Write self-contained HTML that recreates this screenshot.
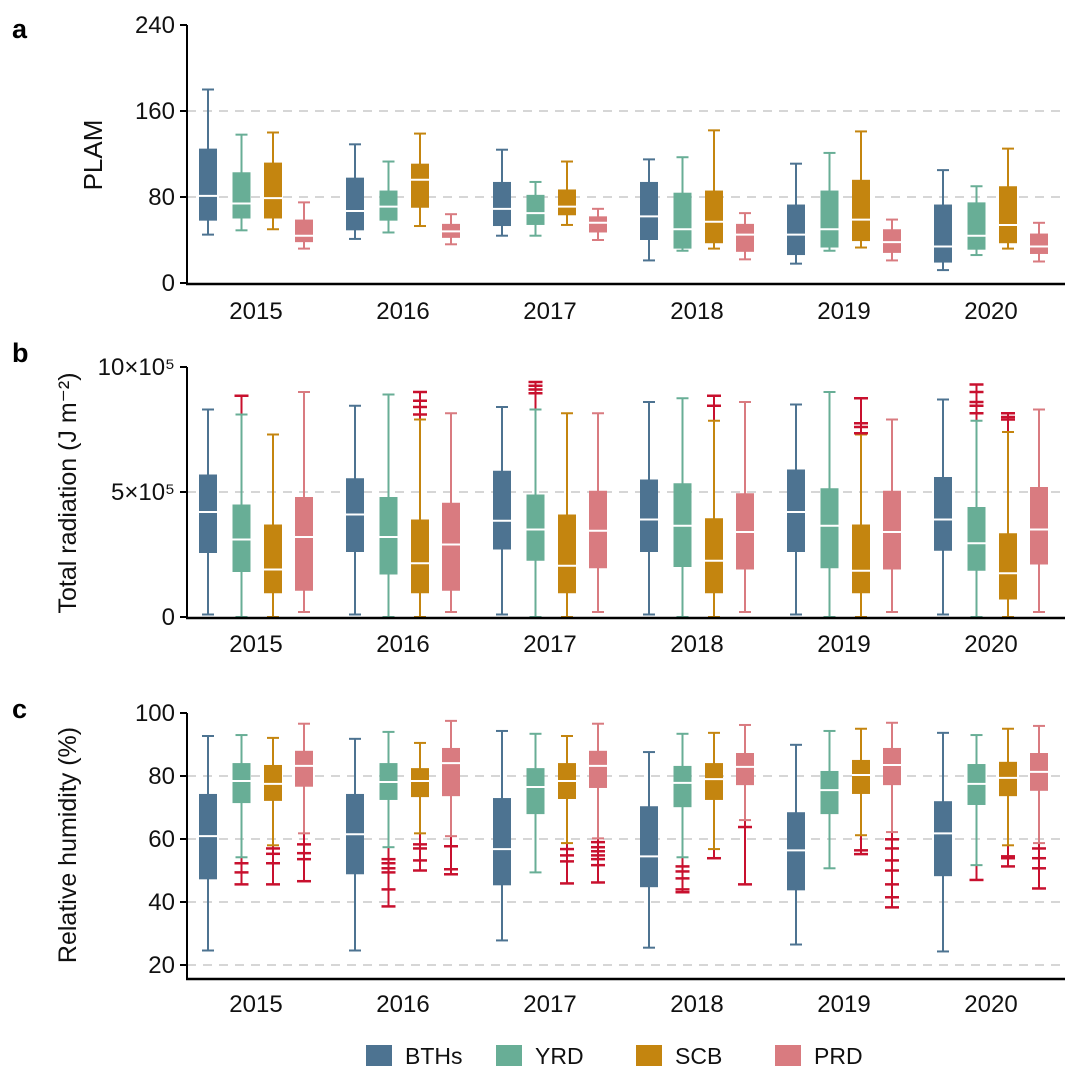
<!DOCTYPE html>
<html><head><meta charset="utf-8"><style>
body{margin:0;background:#fff;}
svg{display:block;font-family:"Liberation Sans",Arial,sans-serif;}
</style></head><body>
<svg id="chart" width="1080" height="1086" viewBox="0 0 1080 1086" xmlns="http://www.w3.org/2000/svg"></svg>
<script>
const years = ['2015','2016','2017','2018','2019','2020'];
const regions = ['BTHs','YRD','SCB','PRD'];
const colors = ['#4d7391','#68ae96','#c4850f','#d97b80'];
// Panel a: PLAM  [low,q1,med,q3,high] per year
const plamBTHs = [[45,58,81,125,180],[41,49,67,98,129],[44,53,69,94,124],[21,40,62,94,115],[18,26,45,73,111],[12,19,34,73,105]];
const plamYRD  = [[49,60,74,103,138],[47,58,71,86,113],[44,54,65,82,94],[30,32,50,84,117],[30,33,50,86,121],[26,31,44,75,90]];
const plamSCB  = [[50,60,79,112,140],[53,70,96,111,139],[54,63,71,87,113],[32,37,57,86,142],[33,39,59,96,141],[32,37,54,90,125]];
const plamPRD  = [[32,38,44,59,75],[36,42,48,55,64],[40,47,56,62,69],[22,29,45,55,65],[21,28,38,50,59],[20,27,34,46,56]];
// Panel b: total radiation (x10^5 J m-2)
const radBTHs = [[0.1,2.56,4.2,5.7,8.3],[0.1,2.6,4.1,5.55,8.45],[0.1,2.7,3.85,5.85,8.4],[0.1,2.6,3.9,5.5,8.6],[0.1,2.6,4.2,5.9,8.5],[0.1,2.65,3.9,5.6,8.7]];
const radYRD  = [[0,1.8,3.1,4.5,8.1],[0,1.7,3.2,4.8,8.9],[0,2.25,3.5,4.9,8.3],[0,2.0,3.65,5.35,8.75],[0,1.95,3.65,5.15,9.0],[0,1.85,2.95,4.4,7.85]];
const radSCB  = [[0,0.95,1.9,3.7,7.3],[0,0.95,2.15,3.9,7.9],[0,0.95,2.05,4.1,8.15],[0,0.95,2.25,3.95,7.85],[0,0.95,1.85,3.7,7.3],[0,0.7,1.75,3.35,7.4]];
const radPRD  = [[0.2,1.05,3.2,4.8,9.0],[0.2,1.05,2.9,4.57,8.15],[0.2,1.95,3.45,5.05,8.15],[0.2,1.9,3.4,4.95,8.6],[0.2,1.9,3.4,5.05,7.9],[0.2,2.1,3.5,5.2,8.3]];
const radOutYRD = [[8.85],[],[9.4,9.25,9.1,8.95],[],[],[9.3,9.0,8.6,8.45,8.15]];
const radOutSCB = [[],[9.0,8.65,8.4,8.1],[],[8.85,8.45],[8.75,7.75,7.6,7.35],[8.15,8.0,7.9]];
// Panel c: relative humidity (%)
const rhBTHs = [[24.6,47.2,60.9,74.3,92.7],[24.6,48.8,61.5,74.3,91.8],[27.8,45.3,56.8,73,94.3],[25.5,44.7,54.5,70.4,87.6],[26.5,43.7,56.4,68.5,89.9],[24.3,48.2,61.8,72,93.7]];
const rhYRD  = [[54.2,71.4,78.4,84.1,93],[57.4,72.4,78.1,84.1,94],[49.4,67.9,76.5,82.5,93.4],[54.2,70.1,77.8,83.2,93.4],[50.7,67.9,75.5,81.6,94.3],[51.7,70.8,77.5,83.8,93]];
const rhSCB  = [[58,72.1,77.5,83.5,92.1],[61.8,73.3,78.4,82.5,90.5],[58.7,72.7,78.4,84.1,92.7],[56.8,72.4,79,84.1,93.7],[61.2,74.3,80.3,85.1,95],[58,73.6,79.4,84.5,95]];
const rhPRD  = [[61.8,76.6,83.2,88,96.6],[60.9,73.6,84.1,88.9,97.5],[60.2,76.2,83.2,88,96.6],[66,77.1,82.9,87.3,96.2],[62.2,77.1,83.5,88.9,96.9],[58.7,75.3,81.3,87.3,95.9]];
const rhOutYRD = [[52.3,49.4,45.6],[53.6,52.3,50.7,49.4,44,38.6],[],[51.3,49.7,47.5,44,43.1],[],[47]];
const rhOutSCB = [[57,55.3,52.3,45.6],[58.3,57,53.2,50],[56.8,54.8,52.9,45.9],[53.9],[56.4,55.2],[54.5,53.9,51.3]];
const rhOutPRD = [[58.3,55.5,53.6,46.6],[57.7,50.4,48.8],[59,57.4,56.1,54.8,53.6,51.7,46.2],[63.8,45.6],[59.9,57,53.2,50,45.6,41.5,38.3],[57,53.9,50.7,44.3]];
const plamTicks = [0,80,160,240];
const radTicks = [0,5,10];
const radTickLabels = ['0','5×10⁵','10×10⁵'];
const rhTicks = [20,40,60,80,100];

const NS='http://www.w3.org/2000/svg';
const svg=document.getElementById('chart');
function mk(tag,attrs,parent){const e=document.createElementNS(NS,tag);for(const k in attrs)e.setAttribute(k,attrs[k]);(parent||svg).appendChild(e);return e;}
function txt(s,attrs,parent){const e=mk('text',attrs,parent);e.textContent=s;return e;}

const X0=187,X1=1065;
const groupStart=208, groupStep=147, offs=[0,33.5,65,96], BW=18;
function xPos(yi,ri){return groupStart+yi*groupStep+offs[ri];}

function panel(cfg){
  const g=mk('g',{});
  
  
  const y=v=>cfg.yBottom-(v-cfg.vmin)/(cfg.vmax-cfg.vmin)*(cfg.yBottom-cfg.yTop);
  cfg.grid.forEach(v=>{const l=mk('line',{x1:X0,x2:X1,y1:y(v),y2:y(v),stroke:'#c8c8c8','stroke-width':1.5,'stroke-dasharray':'9 7'},g);
    });
  cfg.series.forEach((ser,ri)=>{
    ser.forEach((s,yi)=>{
      const cx=xPos(yi,ri), c=colors[ri];
      const bg=mk('g',{},g);
      
      
      const outs=(cfg.outliers[ri]||[])[yi]||[];
      if(outs.length){
        const top=Math.max(...outs,s[4]),bot=Math.min(...outs,s[0]);
        mk('line',{x1:cx,x2:cx,y1:y(bot),y2:y(top),stroke:'#c8102e','stroke-width':2},bg);
      }
      mk('line',{x1:cx,x2:cx,y1:y(s[0]),y2:y(s[4]),stroke:c,'stroke-width':2},bg);
      mk('line',{x1:cx-6,x2:cx+6,y1:y(s[0]),y2:y(s[0]),stroke:c,'stroke-width':2},bg);
      mk('line',{x1:cx-6,x2:cx+6,y1:y(s[4]),y2:y(s[4]),stroke:c,'stroke-width':2},bg);
      mk('rect',{x:cx-BW/2,y:y(s[3]),width:BW,height:y(s[1])-y(s[3]),fill:c},bg);
      mk('line',{x1:cx-BW/2,x2:cx+BW/2,y1:y(s[2]),y2:y(s[2]),stroke:'#fff','stroke-width':2},bg);
      outs.forEach(o=>{
        const p=mk('line',{x1:cx-7,x2:cx+7,y1:y(o),y2:y(o),stroke:'#c8102e','stroke-width':2.5},bg);
        
      });
    });
  });
  const ax=mk('line',{x1:X0,x2:X0,y1:cfg.yTop,y2:cfg.axisBottom,stroke:'#000','stroke-width':2},g);
  
  const bx=mk('line',{x1:X0-1,x2:X1,y1:cfg.axisBottom,y2:cfg.axisBottom,stroke:'#000','stroke-width':2.5},g);
  
  cfg.ticks.forEach((v,i)=>{
    mk('line',{x1:X0-7,x2:X0,y1:y(v),y2:y(v),stroke:'#000','stroke-width':2},g);
    const t=txt(cfg.tickLabels?cfg.tickLabels[i]:String(v),{x:X0-12,y:y(v)+8,'text-anchor':'end','font-size':24,fill:'#111'},g);
    
  });
  years.forEach((yr,yi)=>{
    const cx=(xPos(yi,0)+xPos(yi,3))/2;
    const t=txt(yr,{x:cx,y:cfg.yearY,'text-anchor':'middle','font-size':24,fill:'#111'},g);
    
  });
  const lt=txt(cfg.letter,{x:12,y:cfg.letterY,'font-size':27,'font-weight':'bold',fill:'#000'},g);
  
  const tt=txt(cfg.title,{x:0,y:0,'text-anchor':'middle','font-size':cfg.titleSize,fill:'#111',transform:`translate(${cfg.titleX},${cfg.titleY}) rotate(-90)`},g);
  
}

panel({name:'panel-a-plam',vmin:0,vmax:240,yTop:25,yBottom:283,axisBottom:284,grid:[80,160],ticks:plamTicks,
  series:[plamBTHs,plamYRD,plamSCB,plamPRD],outliers:[],yearY:319,letter:'a',letterY:38,title:'PLAM',titleX:102,titleY:155,titleSize:26});
panel({name:'panel-b-radiation',vmin:0,vmax:10,yTop:367,yBottom:617,axisBottom:618,grid:[5],ticks:radTicks,tickLabels:radTickLabels,
  series:[radBTHs,radYRD,radSCB,radPRD],outliers:[[],radOutYRD,radOutSCB,[]],yearY:652,letter:'b',letterY:362,title:'Total radiation (J m⁻²)',titleX:76,titleY:493,titleSize:25});
panel({name:'panel-c-humidity',vmin:20,vmax:100,yTop:713,yBottom:965,axisBottom:979,grid:[20,40,60,80],ticks:rhTicks,
  series:[rhBTHs,rhYRD,rhSCB,rhPRD],outliers:[[],rhOutYRD,rhOutSCB,rhOutPRD],yearY:1012,letter:'c',letterY:718,title:'Relative humidity (%)',titleX:76,titleY:845,titleSize:25});

// legend
const lg=mk('g',{});


const legX=[366,496,636,775];
regions.forEach((r,i)=>{
  const e=mk('g',{},lg);
  
  
  mk('rect',{x:legX[i],y:1045,width:26,height:21,fill:colors[i]},e);
  txt(r,{x:legX[i]+39,y:1064,'font-size':23,fill:'#111'},e);
});
</script>
</body></html>
